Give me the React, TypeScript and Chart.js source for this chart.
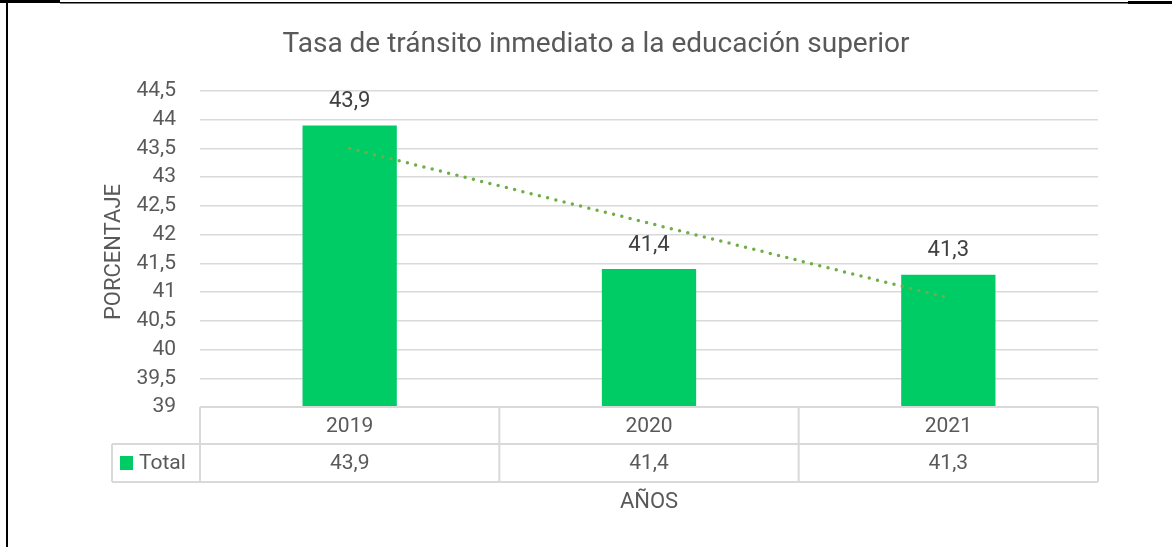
import React, { useEffect, useRef } from "react";
import { Chart, registerables } from "chart.js";

Chart.register(...registerables);

const categories = ["2019", "2020", "2021"];
const totals = [43.9, 41.4, 41.3];
const seriesName = "Total";
const chartTitle = "Tasa de tránsito inmediato a la educación superior";
const xTitle = "AÑOS";
const yTitle = "PORCENTAJE";
const yMin = 39;
const yMax = 44.5;
const yStep = 0.5;

const FONT = "Roboto, 'DejaVu Sans', sans-serif";
const TEXT = "#595959";
const BAR = "#00CC66";
const TREND = "#70AD47";
const GRID = "#d9d9d9";

const fmt = (v: number) => String(Math.round(v * 10) / 10).replace(".", ",");

function linearTrend(values: number[]): number[] {
  const n = values.length;
  const xs = values.map((_, i) => i + 1);
  const mx = xs.reduce((a, b) => a + b, 0) / n;
  const my = values.reduce((a, b) => a + b, 0) / n;
  let num = 0;
  let den = 0;
  for (let i = 0; i < n; i++) {
    num += (xs[i] - mx) * (values[i] - my);
    den += (xs[i] - mx) ** 2;
  }
  const slope = num / den;
  return xs.map((x) => my + slope * (x - mx));
}

const decorPlugin = {
  id: "decor",
  beforeDraw(chart: any) {
    const ctx = chart.ctx;
    ctx.save();
    ctx.fillStyle = "#ffffff";
    ctx.fillRect(0, 0, chart.width, chart.height);
    ctx.fillStyle = "#000000";
    ctx.fillRect(0, 0, 60, 3);
    ctx.fillRect(60, 2, 1068, 1.5);
    ctx.fillRect(1128, 1, 44, 3);
    ctx.fillRect(6, 0, 2, chart.height);
    ctx.restore();
  },
  afterDraw(chart: any) {
    const ctx = chart.ctx;
    const area = chart.chartArea;
    const xs = chart.scales.x;
    ctx.save();

    // title
    ctx.fillStyle = TEXT;
    ctx.font = `28px ${FONT}`;
    ctx.textAlign = "center";
    ctx.textBaseline = "middle";
    ctx.fillText(chartTitle, 596, 45);

    // data labels
    const meta = chart.getDatasetMeta(0);
    ctx.font = `22px ${FONT}`;
    ctx.fillStyle = "#404040";
    meta.data.forEach((el: any, i: number) => {
      ctx.fillText(fmt(totals[i]), el.x, el.y - 24);
    });

    // data table
    const row1Top = area.bottom;
    const row1Bot = 444;
    const row2Bot = 482;
    const legendLeft = 112;
    ctx.strokeStyle = GRID;
    ctx.lineWidth = 2;
    ctx.beginPath();
    ctx.moveTo(area.left, row1Top);
    ctx.lineTo(area.right, row1Top);
    ctx.moveTo(legendLeft, row1Bot);
    ctx.lineTo(area.right, row1Bot);
    ctx.moveTo(legendLeft, row2Bot);
    ctx.lineTo(area.right, row2Bot);
    ctx.moveTo(legendLeft, row1Bot);
    ctx.lineTo(legendLeft, row2Bot);
    const n = categories.length;
    const cw = (area.right - area.left) / n;
    for (let i = 0; i <= n; i++) {
      const x = area.left + cw * i;
      ctx.moveTo(x, row1Top);
      ctx.lineTo(x, row2Bot);
    }
    ctx.stroke();

    ctx.fillStyle = TEXT;
    ctx.font = `21px ${FONT}`;
    ctx.textAlign = "center";
    categories.forEach((c, i) => {
      const x = xs.getPixelForValue(i);
      ctx.fillText(c, x, (row1Top + row1Bot) / 2 + 1);
      ctx.fillText(fmt(totals[i]), x, (row1Bot + row2Bot) / 2 + 1);
    });

    // legend key
    ctx.fillStyle = BAR;
    ctx.fillRect(120, 456, 13, 14);
    ctx.fillStyle = TEXT;
    ctx.textAlign = "left";
    ctx.fillText(seriesName, 139, (row1Bot + row2Bot) / 2 + 1);

    // axis titles
    ctx.textAlign = "center";
    ctx.font = `22px ${FONT}`;
    ctx.fillText(xTitle, (area.left + area.right) / 2, 502);
    ctx.save();
    ctx.translate(114, 252);
    ctx.rotate(-Math.PI / 2);
    ctx.fillText(yTitle, 0, 0);
    ctx.restore();

    ctx.restore();
  },
};

export default function App() {
  const ref = useRef<HTMLCanvasElement>(null);
  useEffect(() => {
    if (!ref.current) return;
    const chart = new Chart(ref.current, {
      type: "bar",
      data: {
        labels: categories,
        datasets: [
          {
            type: "bar",
            label: seriesName,
            data: totals,
            backgroundColor: BAR,
            categoryPercentage: 1,
            barPercentage: 0.315,
            order: 2,
          } as any,
          {
            type: "line",
            label: "Tendencia",
            data: linearTrend(totals),
            borderColor: TREND,
            borderWidth: 3.5,
            borderDash: [0, 8.5],
            borderCapStyle: "round",
            pointRadius: 0,
            fill: false,
            order: 1,
          } as any,
        ],
      },
      options: {
        responsive: false,
        animation: false,
        devicePixelRatio: 1,
        layout: { padding: { top: 91, bottom: 140, left: 0, right: 74 } },
        plugins: {
          legend: { display: false },
          title: { display: false },
          tooltip: { enabled: false },
        },
        scales: {
          x: { display: false, offset: true },
          y: {
            min: yMin,
            max: yMax,
            afterFit: (s: any) => {
              s.width = 200;
            },
            ticks: {
              stepSize: yStep,
              autoSkip: false,
              color: TEXT,
              padding: 24,
              font: { family: FONT, size: 21 },
              callback: (v: any) => fmt(Number(v)),
            },
            grid: { color: GRID, lineWidth: 1.5, drawTicks: false },
            border: { display: false },
          },
        },
      },
      plugins: [decorPlugin],
    });
    return () => chart.destroy();
  }, []);
  return (
    <div style={{ position: "fixed", left: 0, top: 0, width: 1172, height: 547, background: "#fff" }}>
      <canvas ref={ref} width={1172} height={547} style={{ display: "block" }} />
    </div>
  );
}
